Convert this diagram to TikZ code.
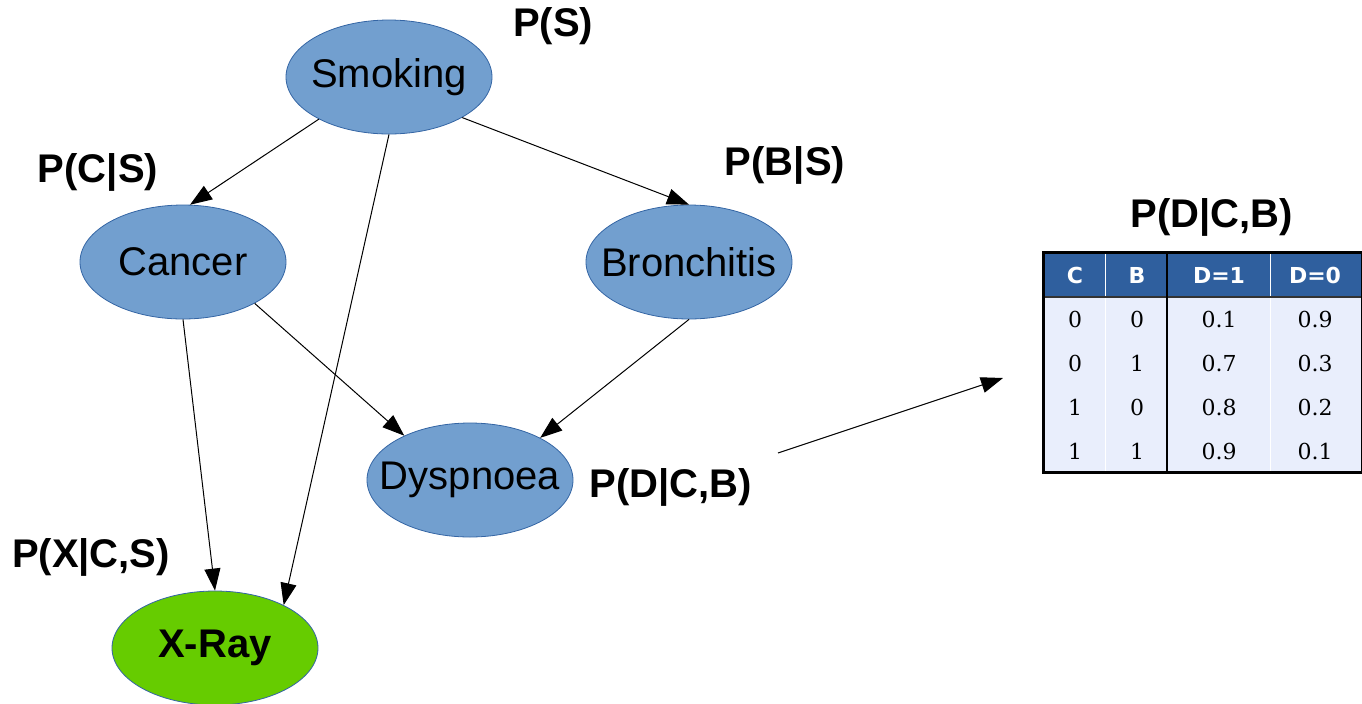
\documentclass[tikz,border=0pt]{standalone}
\usepackage{fontspec}
\setmainfont{Liberation Sans}
\newfontfamily\cptsans{DejaVu Sans}
\newfontfamily\cptserif{DejaVu Serif}
\usepackage{tikz}
\usetikzlibrary{arrows.meta,shapes.geometric}
\definecolor{bnblue}{RGB}{114,159,207}
\definecolor{bnedge}{RGB}{52,101,164}
\definecolor{bngreen}{RGB}{102,204,0}
\definecolor{cpthead}{RGB}{47,95,158}
\definecolor{cptbody}{RGB}{233,238,252}
\newcommand{\bnfont}{\fontsize{20}{24}\selectfont}
\tikzstyle{var} = [ellipse, draw=bnedge, line width=0.4pt, fill=bnblue, minimum width=103pt, minimum height=57pt, inner xsep=-12pt, inner ysep=0pt, font=\bnfont]
\tikzstyle{arrow} = [line width=0.5pt, -{Triangle[length=11pt,width=8pt]}, black]

\begin{document}
\begin{tikzpicture}[
    x=0.5pt, y=-0.5pt,
    prob/.style={font=\bnfont\bfseries, inner sep=0pt},
    cellhead/.style={font=\cptsans\fontsize{11}{13}\selectfont\bfseries, text=white},
    cell/.style={font=\cptserif\fontsize{11}{13}\selectfont}
]
\useasboundingbox (0,0) rectangle (1362,703);

% Variables
\node[var] (smoking) at (389,77) {Smoking};
\node[var] (cancer) at (183,262) {Cancer};
\node[var] (bronch) at (689,262) {Bronchitis};
\node[var] (dysp) at (470,480) {Dyspnoea};
\node[var, fill=bngreen, font=\bnfont\bfseries] (xray) at (215,648) {X-Ray};

% Factors
\node[prob] (ps) at (553,26) {P(S)};
\node[prob] (pcs) at (98,172) {P(C|S)};
\node[prob] (pbs) at (785,165) {P(B|S)};
\node[prob] (pxcs) at (91,557) {P(X|C,S)};
\node[prob] (pdcb) at (671,487) {P(D|C,B)};

% Edges
\draw[arrow] (smoking.211) -- (cancer.83);
\draw[arrow] (smoking.331) -- (bronch.north);
\draw[arrow] (smoking.south) -- (xray.32);
\draw[arrow] (cancer.330) -- (dysp.146);
\draw[arrow] (cancer.south) -- (xray.north);
\draw[arrow] (bronch.south) -- (dysp.31);

% Table for P(D|C,B)
\node[prob] (cpttitle) at (1212,217) {P(D|C,B)};
\fill[cpthead] (1043,252) rectangle (1362,297);
\fill[cptbody] (1043,297) rectangle (1362,472);
\draw[white, line width=0.4pt] (1105,252) -- (1105,472) (1270,252) -- (1270,472);
\draw[black!80, line width=0.6pt] (1043,297) -- (1362,297);
\draw[black, line width=1pt] (1167,252) -- (1167,472);
\draw[black, line width=1.5pt] (1043,252) rectangle (1362,472);
\node[cellhead] (hc) at (1075,275) {C};
\node[cellhead] (hb) at (1137,275) {B};
\node[cellhead] (hd1) at (1219,275) {D=1};
\node[cellhead] (hd0) at (1315,275) {D=0};
\foreach \c/\b/\one/\zero [count=\r] in {0/0/0.1/0.9, 0/1/0.7/0.3, 1/0/0.8/0.2, 1/1/0.9/0.1} {
  \pgfmathsetmacro{\y}{297+44*(\r-0.5)}
  \node[cell] (c\r) at (1075,\y) {\c};
  \node[cell] (b\r) at (1137,\y) {\b};
  \node[cell] (one\r) at (1219,\y) {\one};
  \node[cell] (zero\r) at (1315,\y) {\zero};
}

% Pointer to the table
\coordinate (tfrom) at (778,453);
\coordinate (tto) at (1003,378);
\draw[arrow] (tfrom) -- (tto);

\end{tikzpicture}
\end{document}
